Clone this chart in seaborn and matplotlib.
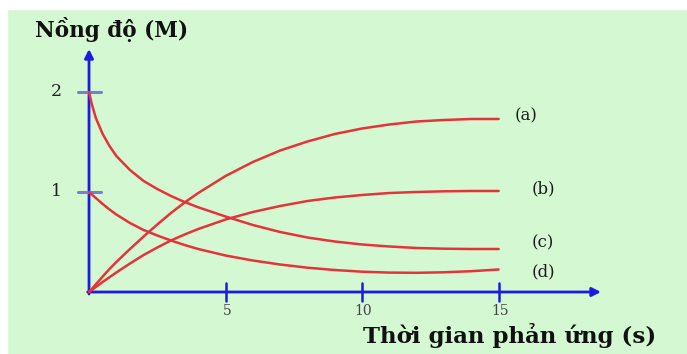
import numpy as np
import pandas as pd
import matplotlib
matplotlib.use("Agg")
import matplotlib.pyplot as plt
import seaborn as sns
from matplotlib.patches import Rectangle

# values
t = [0, 0.1, 0.25, 0.5, 0.75, 1, 1.5, 2, 2.5, 3, 3.5, 4, 5, 6, 7, 8, 9, 10, 11, 12, 13, 14, 15]
conc_a = [0, 0.03, 0.077, 0.155, 0.23, 0.30, 0.43, 0.555, 0.675, 0.79, 0.895, 0.99, 1.16, 1.30, 1.415, 1.505, 1.58, 1.635, 1.675, 1.705, 1.72, 1.73, 1.73]
conc_b = [0, 0.02, 0.05, 0.10, 0.148, 0.195, 0.285, 0.37, 0.445, 0.515, 0.575, 0.63, 0.725, 0.80, 0.86, 0.91, 0.945, 0.97, 0.99, 1.00, 1.007, 1.01, 1.01]
conc_c = [2.0, 1.88, 1.74, 1.58, 1.46, 1.36, 1.22, 1.11, 1.03, 0.96, 0.90, 0.847, 0.755, 0.67, 0.60, 0.545, 0.505, 0.475, 0.455, 0.44, 0.433, 0.43, 0.43]
conc_d = [1.0, 0.975, 0.94, 0.88, 0.825, 0.775, 0.69, 0.62, 0.565, 0.515, 0.47, 0.43, 0.365, 0.315, 0.275, 0.243, 0.22, 0.203, 0.194, 0.192, 0.197, 0.208, 0.225]

curve_names = ["(a)", "(b)", "(c)", "(d)"]
x_ticks = [5, 10, 15]
y_ticks = [1, 2]
y_title = "Nồng độ (M)"
x_title = "Thời gian phản ứng (s)"

df = pd.DataFrame({
    "t": t * 4,
    "conc": conc_a + conc_b + conc_c + conc_d,
    "curve": sum([[n] * len(t) for n in curve_names], []),
})

sns.set_style("white")
plt.rcParams["font.family"] = ["DejaVu Serif"]

BG = "#d4f8d2"
RED = "#e5333a"
BLUE = "#1c1ce0"
TICKBLUE = "#6f82d6"

fig = plt.figure(figsize=(6.87, 3.54), dpi=100)
fig.patch.set_facecolor(BG)
# white margins of the scanned picture
fig.add_artist(Rectangle((0, 0), 7 / 687, 1, transform=fig.transFigure, color="white", zorder=0))
fig.add_artist(Rectangle((0, 1 - 9 / 354), 1, 9 / 354, transform=fig.transFigure, color="white", zorder=0))

ax = fig.add_axes([0, 0, 1, 1])
ax.set_facecolor("none")
ax.set_xlim(-3.26, 21.9)
ax.set_ylim(-0.62, 2.92)
ax.axis("off")

sns.lineplot(data=df, x="t", y="conc", hue="curve", palette=[RED] * 4,
             legend=False, linewidth=1.8, ax=ax, zorder=3)

# axes with arrows
arrow = dict(arrowstyle="-|>", color=BLUE, lw=2, mutation_scale=13, shrinkA=0, shrinkB=0)
ax.annotate("", xy=(18.75, 0), xytext=(-0.05, 0), arrowprops=arrow, zorder=2)
ax.annotate("", xy=(0, 2.43), xytext=(0, -0.02), arrowprops=arrow, zorder=2)

for yv in y_ticks:
    ax.plot([-0.4, 0.45], [yv, yv], color=TICKBLUE, lw=2.2, zorder=2)
    ax.text(-1.18, yv, str(yv), ha="center", va="center", fontsize=12.5, color="#222222")
for xv in x_ticks:
    ax.plot([xv, xv], [-0.09, 0.09], color=BLUE, lw=1.8, zorder=2)
    ax.text(xv + 0.05, -0.19, str(xv), ha="center", va="center", fontsize=10, color="#444444")

label_pos = {"(a)": (15.6, 1.76), "(b)": (16.2, 1.03), "(c)": (16.2, 0.49), "(d)": (16.2, 0.20)}
for n in curve_names:
    x0, y0 = label_pos[n]
    ax.text(x0, y0, n, ha="left", va="center", fontsize=12, color="#1a1a1a")

fig.text(35 / 687, 1 - 30 / 354, y_title, ha="left", va="center",
         fontsize=15.5, fontweight="bold", color="#111111")
fig.text(656 / 687, 1 - 335 / 354, x_title, ha="right", va="center",
         fontsize=16.5, fontweight="bold", color="#111111")

fig.savefig("out.png", dpi=100, facecolor=fig.get_facecolor())
